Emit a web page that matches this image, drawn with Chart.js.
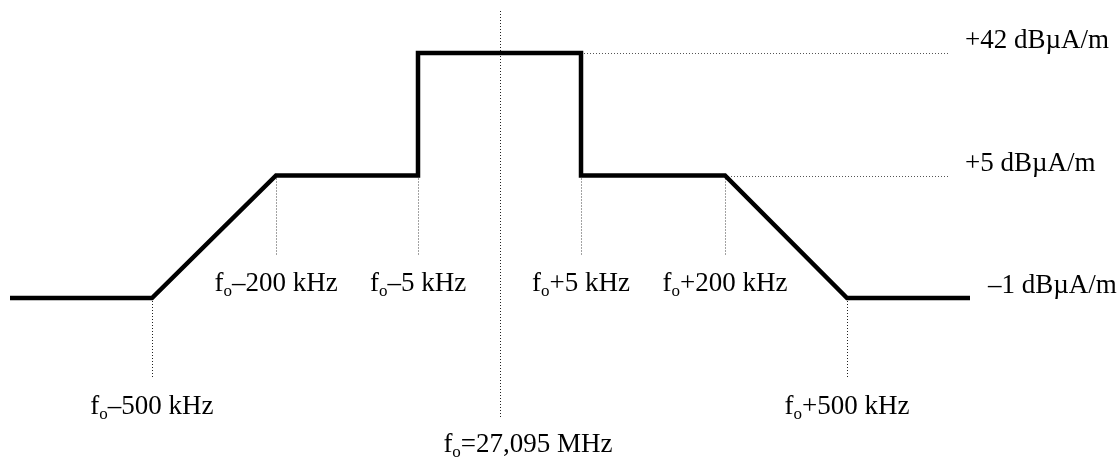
<!DOCTYPE html>
<html>
<head>
    <meta charset="UTF-8" />
    <title>Spectrum mask 27,095 MHz</title>
    <script src="https://cdn.jsdelivr.net/npm/chart.js@4.4.1/dist/chart.umd.min.js"></script>
    <style>
        body { margin: 0; background: #fff; }
        #wrap { width: 1118px; height: 458px; position: relative; }
    </style>
</head>
<body>
    <div id="wrap"><canvas id="chart"></canvas></div>

    <script>
        // mask corners: frequency offset from f0 (kHz) and limit (dBuA/m)
        const offsets = [-700, -500, -200, -5, -5, 5, 5, 200, 500, 700];
        const limits = [-1, -1, 5, 5, 42, 42, 5, 5, -1, -1];

        // frequency tick labels (below the drawing)
        const tickOffsets = [-500, -200, -5, 5, 200, 500];
        const tickTexts = ['–500 kHz', '–200 kHz', '–5 kHz', '+5 kHz', '+200 kHz', '+500 kHz'];
        const centreText = '=27,095 MHz';

        // level labels (right side)
        const levelValues = [42, 5, -1];
        const levelTexts = ['+42 dBµA/m', '+5 dBµA/m', '–1 dBµA/m'];

        const FONT = '27px "Liberation Serif", "Times New Roman", serif';
        const SUBFONT = '17px "Liberation Serif", "Times New Roman", serif';

        // schematic axis: piecewise linear between break points (not to scale)
        class BreakScale extends Chart.LinearScale {
            static id = 'breaks';
            static defaults = {};
            getPixelForValue(value) {
                const v = this.options.breakValues, d = this.options.breakPos;
                let dec = d[0];
                if (value >= v[v.length - 1]) dec = d[d.length - 1];
                for (let i = 0; i < v.length - 1; i++) {
                    if (value >= v[i] && value <= v[i + 1]) {
                        dec = d[i] + (value - v[i]) / (v[i + 1] - v[i]) * (d[i + 1] - d[i]);
                        break;
                    }
                }
                return this.getPixelForDecimal(dec);
            }
        }
        Chart.register(BreakScale);

        function drawF(ctx, rest, x, baseline, align) {
            ctx.font = FONT;
            const wf = ctx.measureText('f').width;
            const wr = ctx.measureText(rest).width;
            ctx.font = SUBFONT;
            const wo = ctx.measureText('o').width;
            const total = wf + wo + wr;
            let sx = align === 'center' ? x - total / 2 : x;
            ctx.textAlign = 'left';
            ctx.textBaseline = 'alphabetic';
            ctx.font = FONT;
            ctx.fillText('f', sx, baseline);
            ctx.font = SUBFONT;
            ctx.fillText('o', sx + wf, baseline + 5);
            ctx.font = FONT;
            ctx.fillText(rest, sx + wf + wo, baseline);
        }

        function dotted(ctx, x1, y1, x2, y2, color) {
            ctx.save();
            ctx.strokeStyle = color;
            ctx.lineWidth = 1;
            ctx.setLineDash([1, 2]);
            ctx.beginPath();
            ctx.moveTo(x1, y1);
            ctx.lineTo(x2, y2);
            ctx.stroke();
            ctx.restore();
        }

        const guides = {
            id: 'guides',
            beforeDatasetsDraw(chart) {
                const ctx = chart.ctx, x = chart.scales.x, y = chart.scales.y;
                const xc = Math.round(x.getPixelForValue(0)) + 0.5;
                dotted(ctx, xc, y.getPixelForValue(42) - 42, xc, y.getPixelForValue(-1) + 120, '#222');
                [-200, -5, 5, 200].forEach(o => {
                    const px = Math.round(x.getPixelForValue(o)) + 0.5;
                    dotted(ctx, px, y.getPixelForValue(5), px, y.getPixelForValue(5) + 80, '#444');
                });
                [-500, 500].forEach(o => {
                    const px = Math.round(x.getPixelForValue(o)) + 0.5;
                    dotted(ctx, px, y.getPixelForValue(-1), px, y.getPixelForValue(-1) + 80, '#222');
                });
                const y42 = Math.round(y.getPixelForValue(42)) + 0.5;
                const y5 = Math.round(y.getPixelForValue(5)) + 0.5;
                dotted(ctx, x.getPixelForValue(5), y42, 948, y42, '#555');
                dotted(ctx, x.getPixelForValue(200), y5, 948, y5, '#555');
            },
            afterDraw(chart) {
                const ctx = chart.ctx, x = chart.scales.x, y = chart.scales.y;
                ctx.save();
                ctx.fillStyle = '#000';
                const yLow = y.getPixelForValue(-1);
                tickOffsets.forEach((o, i) => {
                    const far = Math.abs(o) === 500;
                    drawF(ctx, tickTexts[i], x.getPixelForValue(o), far ? yLow + 116 : yLow - 7, 'center');
                });
                drawF(ctx, centreText, x.getPixelForValue(0) + 28, yLow + 154, 'center');

                ctx.font = FONT;
                ctx.textAlign = 'left';
                ctx.textBaseline = 'alphabetic';
                levelValues.forEach((v, i) => {
                    const lx = v === -1 ? 988 : 965;
                    ctx.fillText(levelTexts[i], lx, y.getPixelForValue(v) - 5);
                });
                ctx.restore();
            }
        };

        new Chart('chart', {
            type: 'line',
            data: {
                datasets: [{
                    data: offsets.map((o, i) => ({ x: o, y: limits[i] })),
                    borderColor: '#000',
                    borderWidth: 4.5,
                    borderJoinStyle: 'miter',
                    borderCapStyle: 'butt',
                    pointRadius: 0,
                    fill: false,
                    tension: 0,
                    clip: false
                }]
            },
            plugins: [guides],
            options: {
                responsive: true,
                maintainAspectRatio: false,
                animation: false,
                layout: { padding: { left: 10, right: 148, top: 53, bottom: 160 } },
                scales: {
                    x: {
                        type: 'breaks',
                        min: -700, max: 700,
                        breakValues: [-700, -500, -200, -5, 0, 5, 200, 500, 700],
                        breakPos: [0, 0.1479, 0.2771, 0.4250, 0.5104, 0.5948, 0.7448, 0.8719, 1],
                        display: false
                    },
                    y: {
                        type: 'breaks',
                        min: -1, max: 42,
                        breakValues: [-1, 5, 42],
                        breakPos: [0, 0.5, 1],
                        display: false
                    }
                },
                plugins: {
                    legend: { display: false },
                    tooltip: { enabled: false }
                }
            }
        });
    </script>
</body>
</html>
